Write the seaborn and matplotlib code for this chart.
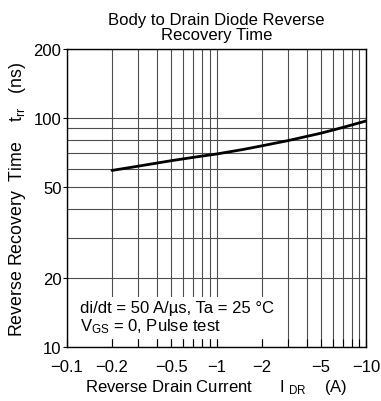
import numpy as np
import pandas as pd
import matplotlib
matplotlib.use("Agg")
import matplotlib.pyplot as plt
import seaborn as sns
from matplotlib.ticker import FixedLocator, NullFormatter

# Data (I_DR in A, negative; trr in ns)
i_dr = [-0.2, -0.3, -0.5, -0.7, -1.0, -1.5, -2.0, -3.0, -5.0, -7.0, -10.0]
trr_ns = [59.0, 61.6, 65.1, 67.3, 69.6, 72.8, 75.5, 79.6, 85.8, 90.9, 97.0]

x_major = [0.1, 0.2, 0.5, 1, 2, 5, 10]
x_major_labels = ["\u22120.1", "\u22120.2", "\u22120.5", "\u22121", "\u22122", "\u22125", "\u221210"]
x_minor = [0.3, 0.4, 0.6, 0.7, 0.8, 0.9, 3, 4, 6, 7, 8, 9]
y_major = [10, 20, 50, 100, 200]
y_major_labels = ["10", "20", "50", "100", "200"]
y_minor = [30, 40, 60, 70, 80, 90]

title = "Body to Drain Diode Reverse\nRecovery Time"
xlabel = "Reverse Drain Current      $\\mathregular{I}\\ _\\mathregular{DR}$    (A)"
ylabel = "Reverse Recovery  Time    t$_\\mathregular{rr}$   (ns)"
note = "di/dt = 50 A/\u00b5s, Ta = 25 \u00b0C\nV$_\\mathregular{GS}$ = 0, Pulse test"

sns.set_theme(style="white")
plt.rcParams["font.family"] = ["Liberation Sans", "DejaVu Sans"]
plt.rcParams["mathtext.fontset"] = "custom"
plt.rcParams["mathtext.rm"] = "Liberation Sans"
plt.rcParams["mathtext.it"] = "Liberation Sans:italic"
for k in ["text.color", "axes.labelcolor", "xtick.color", "ytick.color", "axes.titlecolor"]:
    plt.rcParams[k] = "black"

df = pd.DataFrame({"I_abs": np.abs(i_dr), "trr": trr_ns})

fig = plt.figure(figsize=(3.81, 4.02), dpi=100)
ax = fig.add_axes([67 / 381, 54 / 402, 299 / 381, 298 / 402])

sns.lineplot(data=df, x="I_abs", y="trr", ax=ax, color="black", linewidth=2.0, zorder=4)

ax.set_xscale("log")
ax.set_yscale("log")
ax.set_xlim(0.1, 10)
ax.set_ylim(10, 200)

ax.xaxis.set_major_locator(FixedLocator(x_major))
ax.set_xticklabels(x_major_labels)
ax.xaxis.set_minor_locator(FixedLocator(x_minor))
ax.xaxis.set_minor_formatter(NullFormatter())
ax.yaxis.set_major_locator(FixedLocator(y_major))
ax.set_yticklabels(y_major_labels)
ax.yaxis.set_minor_locator(FixedLocator(y_minor))
ax.yaxis.set_minor_formatter(NullFormatter())

ax.grid(True, which="both", color="0.3", linewidth=0.8)
ax.tick_params(axis="both", which="major", labelsize=12, colors="black")
ax.tick_params(axis="y", which="major", direction="out", length=3, width=0.8, left=True, pad=1)
ax.tick_params(axis="x", which="both", direction="in", length=6, width=0.8, bottom=True)
ax.tick_params(axis="x", which="major", pad=9)
ax.tick_params(axis="y", which="minor", length=0)

for s in ax.spines.values():
    s.set_color("black")
    s.set_linewidth(1.0)

ax.set_title(title, fontsize=12, pad=7, linespacing=1.0, color="black")
ax.set_xlabel(xlabel, fontsize=12, labelpad=2)
ax.set_ylabel(ylabel, fontsize=12.8, labelpad=4)

ax.text(0.043, 0.04, note, transform=ax.transAxes, fontsize=12, ha="left", va="bottom",
        linespacing=1.12, zorder=3,
        bbox=dict(facecolor="white", edgecolor="none", pad=3))

fig.savefig("out.png", dpi=100)
